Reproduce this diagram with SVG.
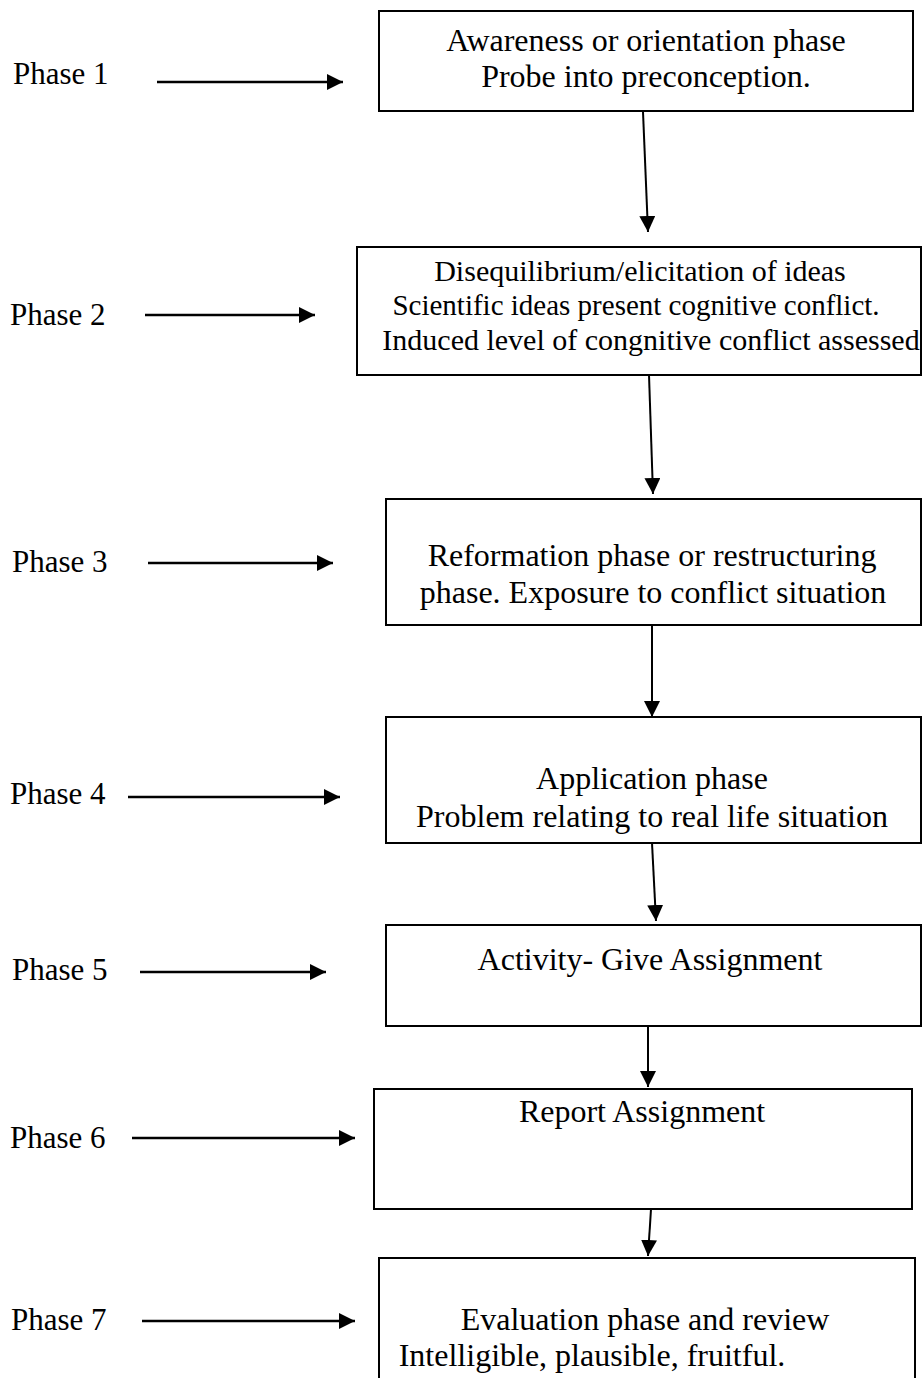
<svg xmlns="http://www.w3.org/2000/svg" width="923" height="1378" viewBox="0 0 923 1378">
  <style>
    text { font-family: "Liberation Serif", "Times New Roman", serif; font-size: 32px; fill: #000; }
    .label { font-size: 31px; }
    .small { font-size: 30px; }
    .mid { text-anchor: middle; }
    .box { fill: #fff; stroke: #000; stroke-width: 2; }
    .link { stroke: #000; stroke-width: 2; fill: none; marker-end: url(#head); }
    .pointer { stroke: #000; stroke-width: 2.6; fill: none; marker-end: url(#head); }
  </style>
  <defs>
    <marker id="head" markerUnits="userSpaceOnUse" markerWidth="17" markerHeight="16" refX="16" refY="8" orient="auto">
      <path d="M0,0 L16,8 L0,16 Z" fill="#000"/>
    </marker>
  </defs>
  <rect width="923" height="1378" fill="#fff"/>

  <!-- phase labels -->
  <g id="labels">
    <text class="label" x="13" y="84">Phase 1</text>
    <text class="label" x="10" y="325">Phase 2</text>
    <text class="label" x="12" y="572">Phase 3</text>
    <text class="label" x="10" y="804">Phase 4</text>
    <text class="label" x="12" y="980">Phase 5</text>
    <text class="label" x="10" y="1148">Phase 6</text>
    <text class="label" x="11" y="1330">Phase 7</text>
  </g>

  <!-- phase boxes -->
  <g id="node1">
    <rect class="box" x="379" y="11" width="534" height="100"/>
    <text class="mid" x="646" y="51">Awareness or orientation phase</text>
    <text class="mid" x="646" y="87">Probe into preconception.</text>
  </g>
  <g id="node2">
    <rect class="box" x="357" y="247" width="564" height="128"/>
    <text class="mid small" x="640" y="281">Disequilibrium/elicitation of ideas</text>
    <text class="mid" x="636" y="315" style="font-size:29px">Scientific ideas present cognitive conflict.</text>
    <text class="mid small" x="651" y="350">Induced level of congnitive conflict assessed</text>
  </g>
  <g id="node3">
    <rect class="box" x="386" y="499" width="535" height="126"/>
    <text class="mid" x="652" y="566">Reformation phase or restructuring</text>
    <text class="mid" x="653" y="603">phase. Exposure to conflict situation</text>
  </g>
  <g id="node4">
    <rect class="box" x="386" y="717" width="535" height="126"/>
    <text class="mid" x="652" y="789">Application phase</text>
    <text class="mid" x="652" y="827">Problem relating to real life situation</text>
  </g>
  <g id="node5">
    <rect class="box" x="386" y="925" width="535" height="101"/>
    <text class="mid" x="650" y="970">Activity- Give Assignment</text>
  </g>
  <g id="node6">
    <rect class="box" x="374" y="1089" width="538" height="120"/>
    <text class="mid" x="642" y="1122">Report Assignment</text>
  </g>
  <g id="node7">
    <rect class="box" x="379" y="1258" width="536" height="140"/>
    <text class="mid" x="645" y="1330">Evaluation phase and review</text>
    <text class="mid" x="592" y="1366">Intelligible, plausible, fruitful.</text>
  </g>

  <!-- connectors -->
  <g id="connectors">
    <line class="pointer" x1="157" y1="82" x2="343" y2="82"/>
    <line class="pointer" x1="145" y1="315" x2="315" y2="315"/>
    <line class="pointer" x1="148" y1="563" x2="333" y2="563"/>
    <line class="pointer" x1="128" y1="797" x2="340" y2="797"/>
    <line class="pointer" x1="140" y1="972" x2="326" y2="972"/>
    <line class="pointer" x1="132" y1="1138" x2="355" y2="1138"/>
    <line class="pointer" x1="142" y1="1321" x2="355" y2="1321"/>

    <line class="link" x1="643" y1="112" x2="648" y2="232"/>
    <line class="link" x1="649" y1="375" x2="653" y2="494"/>
    <line class="link" x1="652" y1="625" x2="652" y2="717"/>
    <line class="link" x1="652" y1="843" x2="656" y2="921"/>
    <line class="link" x1="648" y1="1026" x2="648" y2="1087"/>
    <line class="link" x1="651" y1="1209" x2="648" y2="1256"/>
  </g>
</svg>
